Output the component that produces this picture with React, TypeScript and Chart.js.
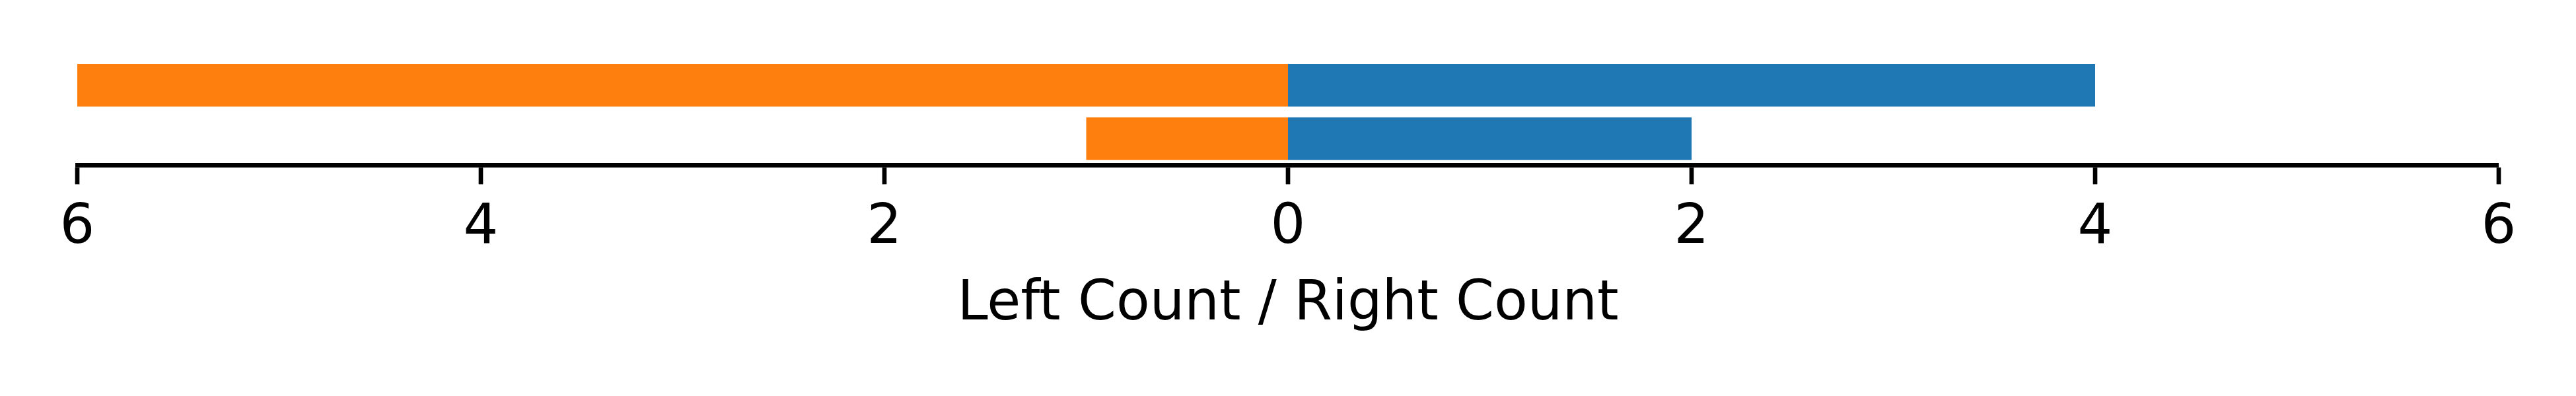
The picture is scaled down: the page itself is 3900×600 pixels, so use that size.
import React, { useEffect, useRef } from "react";
import { Chart, registerables } from "chart.js";

Chart.register(...registerables);

const categories = ["Group 1", "Group 2"];
const leftCounts = [6, 1];
const rightCounts = [4, 2];
const xTicks = [-6, -4, -2, 0, 2, 4, 6];
const axisTitle = "Left Count / Right Count";

export default function App() {
  const ref = useRef<HTMLCanvasElement>(null);

  useEffect(() => {
    if (!ref.current) return;
    const font = { family: "'DejaVu Sans'", size: 83, weight: "normal" as const, lineHeight: 1.2 };
    const chart = new Chart(ref.current, {
      type: "bar",
      data: {
        labels: categories,
        datasets: [
          {
            label: "Left Count",
            data: leftCounts.map((v) => -v),
            backgroundColor: "#ff7f0e",
            borderWidth: 0,
            inflateAmount: 0,
            barPercentage: 0.8,
            categoryPercentage: 1,
          },
          {
            label: "Right Count",
            data: rightCounts,
            backgroundColor: "#1f77b4",
            borderWidth: 0,
            inflateAmount: 0,
            barPercentage: 0.8,
            categoryPercentage: 1,
          },
        ],
      },
      options: {
        indexAxis: "y",
        animation: false,
        responsive: false,
        devicePixelRatio: 1,
        color: "#000",
        layout: { padding: { left: 117, right: 117, top: 89, bottom: 88 } },
        plugins: {
          legend: { display: false },
          tooltip: { enabled: false },
          title: {
            display: true,
            position: "bottom",
            text: axisTitle,
            color: "#000",
            font,
            padding: { top: -0.5, bottom: 0 },
          },
        },
        scales: {
          x: {
            type: "linear",
            stacked: true,
            min: -6,
            max: 6,
            afterBuildTicks: (scale: any) => {
              scale.ticks = xTicks.map((v) => ({ value: v }));
            },
            ticks: {
              color: "#000",
              font,
              padding: 17,
              maxRotation: 0,
              autoSkip: false,
              callback: (v: any) => String(Math.abs(Number(v))),
            },
            grid: {
              display: true,
              drawOnChartArea: false,
              drawTicks: true,
              tickLength: 29,
              color: "#000",
              lineWidth: 0,
              tickColor: "#000",
              tickWidth: 6.67,
            },
            border: { display: true, color: "#000", width: 6.67 },
          },
          y: {
            stacked: true,
            display: false,
          },
        },
      },
    });
    return () => chart.destroy();
  }, []);

  return (
    <div style={{ position: "absolute", left: 0, top: 0, width: 3900, height: 600, background: "#fff" }}>
      <canvas ref={ref} width={3900} height={600} style={{ width: 3900, height: 600, display: "block" }} />
    </div>
  );
}
